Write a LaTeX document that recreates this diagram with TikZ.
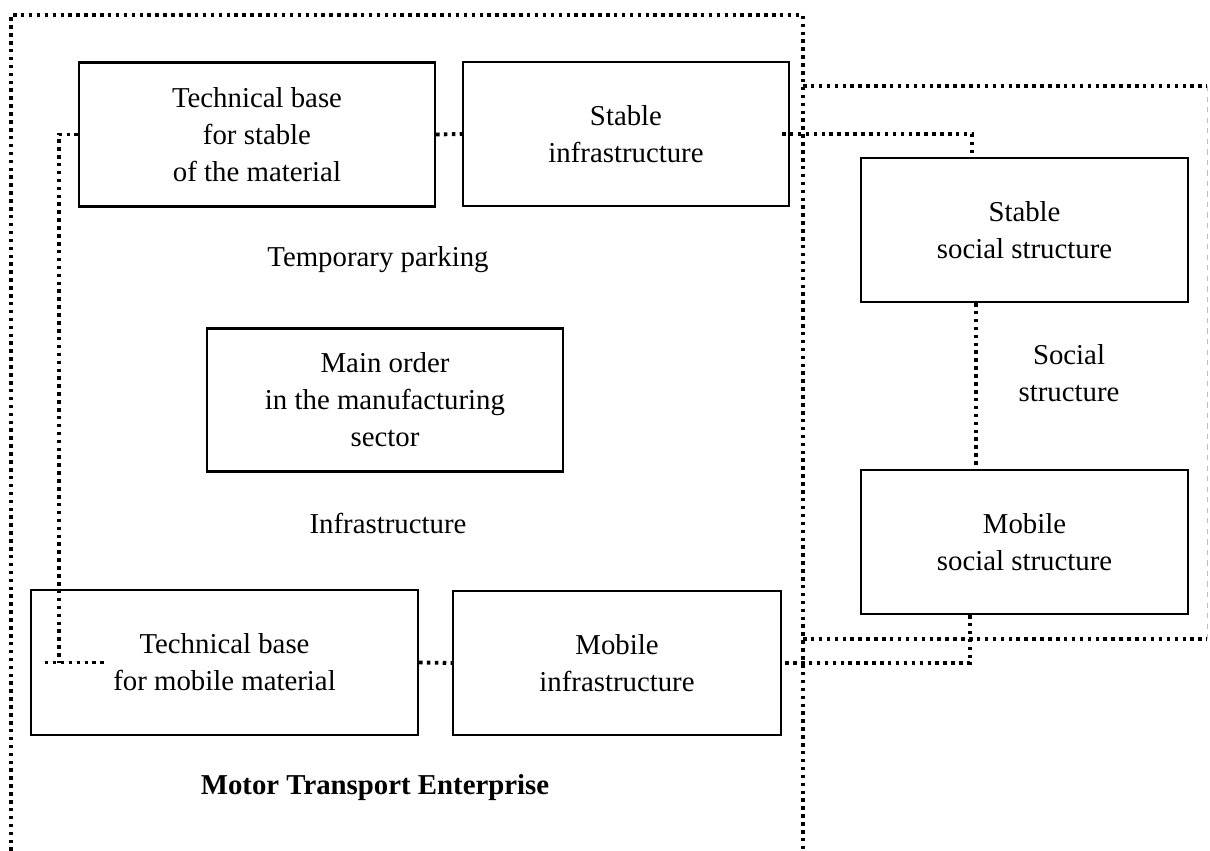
\documentclass[tikz,border=0pt]{standalone}
\usepackage{fontspec}
\setmainfont{Liberation Serif}
\begin{document}
\begin{tikzpicture}[x=0.02cm,y=-0.02cm,
    box/.style={draw,line width=1.2pt,minimum height=2.88cm,inner sep=0pt,align=center,
      font=\fontsize{16.4}{21}\selectfont},
    lbl/.style={align=center,font=\fontsize{16.4}{21}\selectfont},
    link/.style={line width=2.2pt,dash pattern=on 2pt off 2.5pt}]
      \useasboundingbox (0,0) rectangle (1210,851);
      \draw
        (257,134.5) node[box,minimum width=7.12cm] (tbs){Technical base\\for stable\\of the material}
        (626,134) node[box,minimum width=6.52cm] (sinf){Stable\\infrastructure}
        (1024.5,230) node[box,minimum width=6.54cm] (ssoc){Stable\\social structure}
        (385,400) node[box,minimum width=7.12cm,minimum height=2.86cm] (morder){Main order\\in the manufacturing\\sector}
        (1024.5,542) node[box,minimum width=6.54cm] (msoc){Mobile\\social structure}
        (224.5,662.5) node[box,minimum width=7.74cm,minimum height=2.9cm] (tbm){Technical base\\for mobile material}
        (617,663) node[box,minimum width=6.56cm] (minf){Mobile\\infrastructure};
      \draw
        (378,260) node[lbl] (park){Temporary parking}
        (388,523) node[lbl] (infra){Infrastructure}
        (1069,373) node[lbl] (soc){Social\\structure}
        (375,788) node[lbl,font=\fontsize{16.4}{21}\selectfont\bfseries] (mte){Motor Transport Enterprise};
      % frames
      \draw[link] (11,851) -- (11,15) -- (803,15) -- (803,851);
      \draw[link] (803,86) -- (1207,86);
      \draw[link] (803,639) -- (1207,639);
      \draw[gray!50,line width=0.5pt,dashed] (1207,86) -- (1207,639);
      \coordinate (lk) at (59,663);
      \begin{scope}[link]
        \draw (tbs.west) -| (lk);
        \draw ([xshift=0.3cm]tbm.west) -- ([xshift=1.48cm]tbm.west);
        \draw (tbs.east) -- (sinf.west);
        \draw ([xshift=-0.16cm]sinf.east) -| ([xshift=-1.05cm]ssoc.north);
        \draw ([xshift=-0.97cm]ssoc.south) -- ([xshift=-0.97cm]msoc.north);
        \draw ([xshift=-1.09cm]msoc.south) |- (minf.east);
        \draw (tbm.east) -- (minf.west);
      \end{scope}
    \end{tikzpicture}
\end{document}
